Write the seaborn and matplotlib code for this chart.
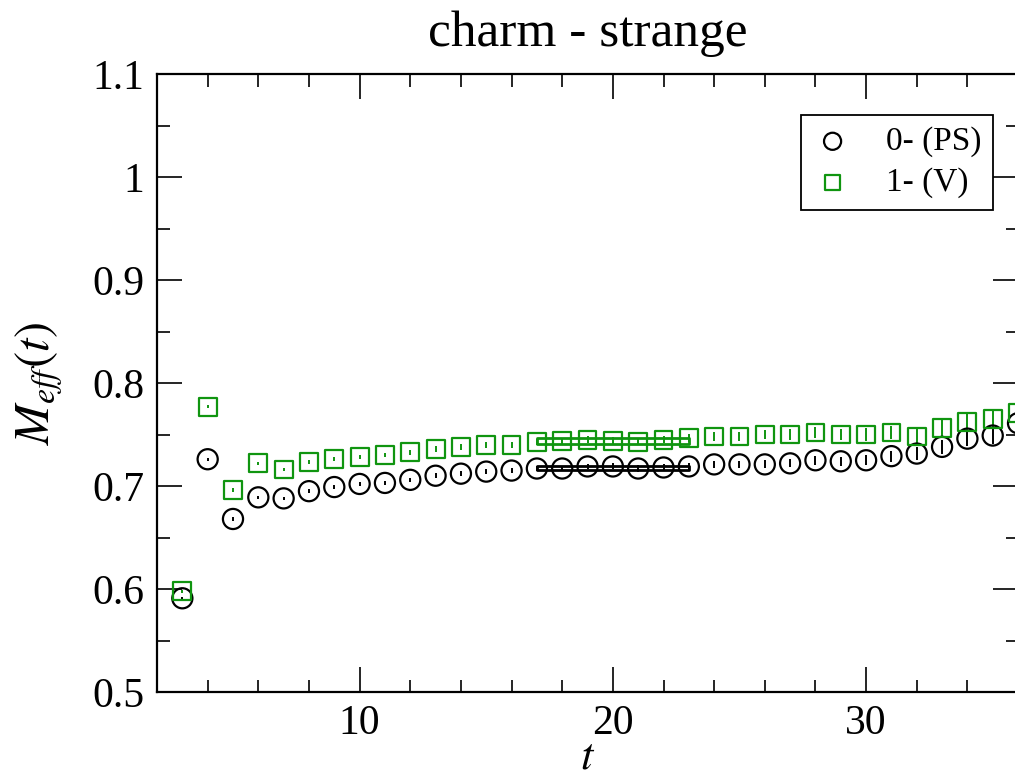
import numpy as np
import pandas as pd
import matplotlib
matplotlib.use("Agg")
import matplotlib.pyplot as plt
from matplotlib.ticker import MultipleLocator, FormatStrFormatter
import seaborn as sns

# Effective mass per time slice, charm-strange meson
t = [3, 4, 5, 6, 7, 8, 9, 10, 11, 12, 13, 14, 15, 16, 17, 18, 19, 20,
     21, 22, 23, 24, 25, 26, 27, 28, 29, 30, 31, 32, 33, 34, 35, 36]
ps_mass = [0.591, 0.726, 0.668, 0.689, 0.688, 0.695, 0.699, 0.702, 0.703,
           0.706, 0.710, 0.712, 0.714, 0.715, 0.717, 0.717, 0.719, 0.719,
           0.717, 0.718, 0.719, 0.721, 0.721, 0.721, 0.722, 0.725, 0.724,
           0.725, 0.729, 0.7315, 0.738, 0.746, 0.749, 0.761]
ps_err = [0.0015, 0.0015, 0.0015, 0.0015, 0.0016, 0.0017, 0.0018, 0.0019,
          0.0020, 0.0021, 0.0022, 0.0023, 0.0024, 0.0025, 0.0026, 0.0027,
          0.0028, 0.0029, 0.0030, 0.0031, 0.0032, 0.0034, 0.0036, 0.0038,
          0.0040, 0.0043, 0.0046, 0.0049, 0.0053, 0.0059, 0.0065, 0.0073,
          0.0081, 0.0090]
v_mass = [0.598, 0.777, 0.696, 0.722, 0.716, 0.723, 0.726, 0.728, 0.730,
          0.733, 0.736, 0.738, 0.740, 0.740, 0.7425, 0.7435, 0.745, 0.744,
          0.743, 0.745, 0.747, 0.748, 0.748, 0.750, 0.750, 0.752, 0.750,
          0.750, 0.752, 0.748, 0.756, 0.762, 0.765, 0.771]
v_err = [0.0015, 0.0016, 0.0017, 0.0018, 0.0019, 0.0020, 0.0021, 0.0022,
         0.0023, 0.0024, 0.0025, 0.0026, 0.0027, 0.0028, 0.0029, 0.0031,
         0.0032, 0.0033, 0.0035, 0.0037, 0.0039, 0.0041, 0.0043, 0.0046,
         0.0049, 0.0052, 0.0056, 0.0061, 0.0066, 0.0073, 0.0081, 0.0089,
         0.0097, 0.0105]

# Plateau fits over the window t = 17..23
fit_range = [17, 23]
ps_fit, ps_fit_err = 0.7174, 0.0022
v_fit, v_fit_err = 0.7435, 0.0028

labels = ["0- (PS)", "1- (V)"]
colors = ["black", "#109510"]
markers = ["o", "s"]
sizes = [210, 165]

sns.set_theme(style="ticks")
plt.rcParams["font.family"] = ["Liberation Serif", "DejaVu Serif"]
plt.rcParams["mathtext.fontset"] = "stix"
for key in ("text.color", "axes.labelcolor", "xtick.color", "ytick.color",
            "axes.edgecolor"):
    plt.rcParams[key] = "black"

fig = plt.figure(figsize=(10.15, 7.8), dpi=100)
ax = fig.add_axes([0.1547, 0.1128, 0.8483, 0.7923])

series = [(ps_mass, ps_err, ps_fit, ps_fit_err),
          (v_mass, v_err, v_fit, v_fit_err)]
for (mass, err, fit, fit_err), lab, col, mk, sz in zip(series, labels, colors,
                                                         markers, sizes):
    df = pd.DataFrame({"t": t, "M": mass})
    ax.errorbar(df["t"], df["M"], yerr=err, fmt="none", ecolor=col,
                elinewidth=1.4, capsize=0, zorder=2)
    sns.scatterplot(data=df, x="t", y="M", ax=ax, marker=mk, s=sz,
                    color=col, facecolor="none", edgecolor=col,
                    linewidth=1.6, label=lab, zorder=3)
    lo = [fit - fit_err] * len(fit_range)
    hi = [fit + fit_err] * len(fit_range)
    ax.fill_between(fit_range, lo, hi, facecolor="none", edgecolor=col,
                    linewidth=2.0, zorder=4)

ax.set_xlim(2, 36)
ax.set_ylim(0.5, 1.1)
ax.xaxis.set_major_locator(MultipleLocator(10))
ax.xaxis.set_minor_locator(MultipleLocator(2))
ax.yaxis.set_major_locator(MultipleLocator(0.1))
ax.yaxis.set_minor_locator(MultipleLocator(0.05))
ax.yaxis.set_major_formatter(FormatStrFormatter("%g"))

ax.tick_params(which="both", direction="in", top=True, right=True,
               labelsize=30, pad=9, color="black", labelcolor="black")
ax.tick_params(which="major", length=18, width=1.2)
ax.tick_params(which="minor", length=9, width=1.2)
for sp in ax.spines.values():
    sp.set_linewidth(1.6)
    sp.set_color("black")

ax.set_xlabel("$t$", fontsize=32, labelpad=-4)
ax.set_ylabel("$M_{eff}(t)$", fontsize=35, labelpad=20)
ax.set_title("charm - strange", fontsize=37, pad=20)

leg = ax.legend(loc="upper right", bbox_to_anchor=(0.971, 0.934),
                fontsize=24, frameon=True, fancybox=False, shadow=False,
                markerscale=0.85, handletextpad=1.0, borderpad=0.35,
                labelspacing=0.3, handlelength=1.2, borderaxespad=0)
leg.get_frame().set_edgecolor("black")
leg.get_frame().set_linewidth(1.3)
leg.get_frame().set_alpha(1)

fig.savefig("out.png", dpi=100)
